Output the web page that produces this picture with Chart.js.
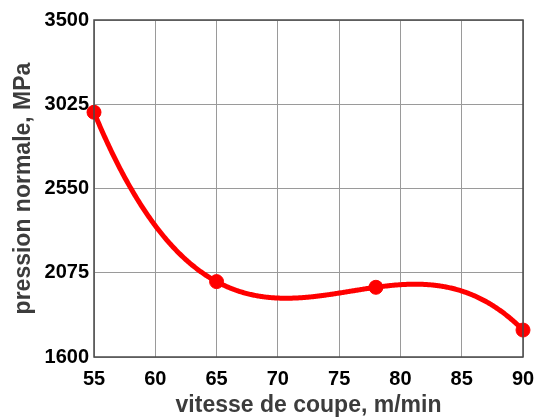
<!DOCTYPE html>
<html>
<head>
<meta charset="utf-8">
<script src="https://cdn.jsdelivr.net/npm/chart.js@4/dist/chart.umd.min.js"></script>
<style>
  body { margin:0; background:#fff; }
  #wrap { width:541px; height:419px; }
</style>
</head>
<body>
<div id="wrap"><canvas id="chart" width="541" height="419"></canvas></div>
<script>
// mesures : vitesse de coupe (m/min) -> pression normale (MPa)
const speeds = [55, 65, 78, 90];
const pressures = [2980, 2025, 1993, 1752];
const xTickValues = [55, 60, 65, 70, 75, 80, 85, 90];
const yTickValues = [1600, 2075, 2550, 3025, 3500];

const RED = "#ff0000";
const FONT = "'Liberation Sans', Arial, sans-serif";

// polynome de Lagrange passant par tous les points mesurés
function lagrange(xs, ys, x) {
  let s = 0;
  for (let i = 0; i < xs.length; i++) {
    let t = ys[i];
    for (let j = 0; j < xs.length; j++) if (j !== i) t *= (x - xs[j]) / (xs[i] - xs[j]);
    s += t;
  }
  return s;
}

// trace la courbe lissée sous les marqueurs
const smoothCurve = {
  id: "smoothCurve",
  beforeDatasetsDraw(chart) {
    const { ctx, scales: { x, y } } = chart;
    const x0 = x.getPixelForValue(speeds[0]);
    const x1 = x.getPixelForValue(speeds[speeds.length - 1]);
    ctx.save();
    ctx.beginPath();
    for (let px = x0; px <= x1 + 0.01; px += 1) {
      const v = x.getValueForPixel(px);
      const py = y.getPixelForValue(lagrange(speeds, pressures, v));
      if (px === x0) ctx.moveTo(px, py); else ctx.lineTo(px, py);
    }
    ctx.strokeStyle = RED;
    ctx.lineWidth = 5;
    ctx.lineJoin = "round";
    ctx.lineCap = "round";
    ctx.stroke();
    ctx.restore();
  }
};

// cadre autour de la zone de tracé
const frame = {
  id: "frame",
  afterDraw(chart) {
    const { ctx, chartArea: a } = chart;
    ctx.save();
    ctx.strokeStyle = "#4a4a4a";
    ctx.lineWidth = 1.5;
    ctx.strokeRect(a.left, a.top, a.right - a.left, a.bottom - a.top);
    ctx.restore();
  }
};

new Chart(document.getElementById("chart"), {
  type: "scatter",
  data: {
    datasets: [{
      data: speeds.map((v, i) => ({ x: v, y: pressures[i] })),
      showLine: false,
      pointRadius: 7,
      pointBackgroundColor: RED,
      pointBorderColor: RED,
      clip: false
    }]
  },
  options: {
    responsive: false,
    animation: false,
    layout: { padding: { top: 20, right: 18, left: 10, bottom: 0 } },
    plugins: { legend: { display: false }, tooltip: { enabled: false } },
    scales: {
      x: {
        type: "linear", min: 55, max: 90,
        afterBuildTicks: s => { s.ticks = xTickValues.map(v => ({ value: v })); },
        afterFit: s => { s.height = 62; s.paddingLeft = 0; s.paddingRight = 0; },
        grid: { color: "#9a9a9a", lineWidth: 1, drawTicks: false },
        border: { display: false },
        ticks: { color: "#000", padding: 10, maxRotation: 0, callback: v => String(v), font: { family: FONT, size: 20, weight: "bold" } },
        title: { display: true, text: "vitesse de coupe, m/min", color: "#3c3c3c", padding: 0, font: { family: FONT, size: 23, weight: "bold" } }
      },
      y: {
        type: "linear", min: 1600, max: 3500,
        afterBuildTicks: s => { s.ticks = yTickValues.map(v => ({ value: v })); },
        afterFit: s => { s.width = 84; s.paddingTop = 0; s.paddingBottom = 0; },
        grid: { color: "#9a9a9a", lineWidth: 1, drawTicks: false },
        border: { display: false },
        ticks: { color: "#000", padding: 5, callback: v => String(v), font: { family: FONT, size: 20, weight: "bold" } },
        title: { display: true, text: "pression normale, MPa", color: "#3c3c3c", padding: 0, font: { family: FONT, size: 23, weight: "bold" } }
      }
    }
  },
  plugins: [smoothCurve, frame]
});
</script>
</body>
</html>
